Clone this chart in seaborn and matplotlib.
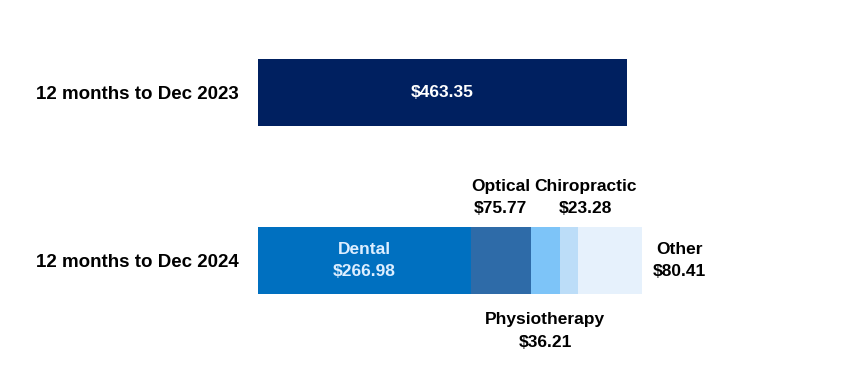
import matplotlib
matplotlib.use("Agg")
import matplotlib.pyplot as plt
import seaborn as sns
import pandas as pd
import numpy as np

# data
periods = ["12 months to Dec 2023", "12 months to Dec 2024"]
total_2023 = 463.35
categories = ["Dental", "Optical", "Physiotherapy", "Chiropractic", "Other"]
values_2024 = [266.98, 75.77, 36.21, 23.28, 80.41]
colors_2024 = ["#0070C0", "#2E6BA8", "#7DC4F8", "#BCDDF8", "#E6F1FC"]

sns.set_theme(style="white")
plt.rcParams["font.family"] = ["Liberation Sans Narrow", "Liberation Sans", "DejaVu Sans"]

fig = plt.figure(figsize=(8.49, 3.9), dpi=100)
ax = fig.add_axes([258 / 849, 0, 1 - 258 / 849, 1])

# 2023 bar
df23 = pd.DataFrame({"period": [periods[0]], "amount": [total_2023]})
sns.barplot(data=df23, x="amount", y="period", order=periods, orient="h",
            color="#002060", saturation=1, width=0.4, linewidth=0, ax=ax)

# 2024 stacked bar: draw cumulative totals from largest to smallest
cum = np.cumsum(values_2024)
for c, col in reversed(list(zip(cum, colors_2024))):
    d = pd.DataFrame({"period": [periods[1]], "amount": [c]})
    sns.barplot(data=d, x="amount", y="period", order=periods, orient="h",
                color=col, saturation=1, width=0.4, linewidth=0, ax=ax)

ax.set_xlim(0, 591 / 0.7964)
ax.set_ylim(1.7708, -0.5506)
ax.set_xlabel("")
ax.set_ylabel("")
ax.set_xticks([])
sns.despine(ax=ax, left=True, bottom=True)
ax.tick_params(axis="y", length=0, pad=14)
for t in ax.get_yticklabels():
    t.set_fontsize(13.5)
    t.set_fontweight("bold")
    t.set_color("black")

fs = 12.5
ls = 1.65
ax.text(total_2023 / 2, 0, f"${total_2023:.2f}", ha="center", va="center",
        color="white", fontsize=fs, fontweight="bold")

starts = cum - np.array(values_2024)
mids = starts + np.array(values_2024) / 2

def lab(i):
    return f"{categories[i]}\n${values_2024[i]:.2f}"

ax.text(mids[0], 1.0, lab(0), ha="center", va="center", color="#DDEEFF",
        fontsize=fs, fontweight="bold", linespacing=ls)
ax.text(mids[1], 0.625, lab(1), ha="center", va="center", color="black",
        fontsize=fs, fontweight="bold", linespacing=ls)
ax.text(mids[3] + 21, 0.625, lab(3), ha="center", va="center", color="black",
        fontsize=fs, fontweight="bold", linespacing=ls)
ax.text(mids[2], 1.42, lab(2), ha="center", va="center", color="black",
        fontsize=fs, fontweight="bold", linespacing=ls)
ax.text(cum[-1] + 47, 1.0, lab(4), ha="center", va="center", color="black",
        fontsize=fs, fontweight="bold", linespacing=ls)

fig.savefig("out.png", dpi=100)
